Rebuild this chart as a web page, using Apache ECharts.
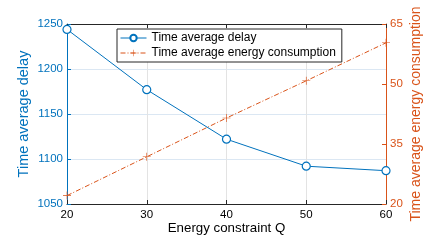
<!DOCTYPE html>
<html>
<head>
<meta charset="utf-8">
<script src="https://cdn.jsdelivr.net/npm/echarts@6/dist/echarts.min.js"></script>
<style>
  html, body { margin: 0; padding: 0; background: #fff; }
  #chart { width: 428px; height: 241px; }
</style>
</head>
<body>
<div id="chart"></div>
<script>
// values
var energyQ = [20, 30, 40, 50, 60];
var delay = [1244, 1177, 1122, 1092, 1087];
var energy = [22.1, 31.8, 41.5, 50.8, 60.3];

var blue = '#0072BD';
var orange = '#D95319';
var dark = '#262626';
var font = 'Liberation Sans, Arial, sans-serif';

var plusSymbol = 'path://M-0.08,-1H0.08V-0.08H1V0.08H0.08V1H-0.08V0.08H-1V-0.08H-0.08Z';

function plain(v) { return String(v); }

var chart = echarts.init(document.getElementById('chart'));
chart.setOption({
    animation: false,
    textStyle: { fontFamily: font },
    grid: { left: 67, right: 42, top: 24, bottom: 37, outerBoundsMode: 'none' },
    legend: {
        orient: 'vertical',
        left: 117, top: 29,
        padding: [3, 6, 3, 3],
        itemGap: 3,
        itemWidth: 26, itemHeight: 8,
        borderColor: dark, borderWidth: 1,
        backgroundColor: '#fff',
        lineStyle: { width: 1 },
        textStyle: { fontSize: 12, color: '#000', fontFamily: font },
        data: ['Time average delay', 'Time average energy consumption']
    },
    xAxis: [{
        type: 'value', min: 20, max: 60, interval: 10,
        name: 'Energy constraint Q', nameLocation: 'middle', nameGap: 18,
        nameMoveOverlap: false,
        nameTextStyle: { fontSize: 13.3, color: '#000' },
        axisLine: { lineStyle: { color: dark } },
        axisTick: { inside: true, length: 4, lineStyle: { color: dark } },
        axisLabel: { fontSize: 11.5, color: '#000', margin: 5, formatter: plain },
        splitLine: { show: true, lineStyle: { color: '#e3e3e3' } }
    }, {
        type: 'value', min: 20, max: 60, interval: 10, position: 'top',
        axisLine: { lineStyle: { color: dark } },
        axisTick: { inside: true, length: 4, lineStyle: { color: dark } },
        axisLabel: { show: false },
        splitLine: { show: false }
    }],
    yAxis: [{
        type: 'value', min: 1050, max: 1250, interval: 50,
        name: 'Time average delay', nameLocation: 'middle', nameGap: 36,
        nameMoveOverlap: false,
        nameTextStyle: { fontSize: 14.5, color: blue },
        axisLine: { show: true, lineStyle: { color: blue } },
        axisTick: { show: true, inside: true, length: 4, lineStyle: { color: blue } },
        axisLabel: { fontSize: 11.5, color: blue, margin: 4, formatter: plain },
        splitLine: { show: true, lineStyle: { color: '#dbe7f3' } }
    }, {
        type: 'value', min: 20, max: 65, interval: 15, position: 'right',
        name: 'Time average energy consumption', nameLocation: 'middle', nameGap: 23,
        nameMoveOverlap: false,
        nameRotate: 90,
        nameTextStyle: { fontSize: 14, color: orange },
        axisLine: { show: true, lineStyle: { color: orange } },
        axisTick: { show: true, inside: true, length: 4, lineStyle: { color: orange } },
        axisLabel: { fontSize: 11.5, color: orange, margin: 4, formatter: plain },
        splitLine: { show: false }
    }],
    series: [{
        name: 'Time average delay',
        type: 'line',
        xAxisIndex: 0, yAxisIndex: 0,
        data: energyQ.map(function (q, i) { return [q, delay[i]]; }),
        symbol: 'circle', symbolSize: 8,
        showAllSymbol: true,
        lineStyle: { color: blue, width: 1 },
        itemStyle: { color: '#fff', borderColor: blue, borderWidth: 1.2 },
        z: 3
    }, {
        name: 'Time average energy consumption',
        type: 'line',
        xAxisIndex: 0, yAxisIndex: 1,
        data: energyQ.map(function (q, i) { return [q, energy[i]]; }),
        symbol: plusSymbol, symbolSize: 8,
        showAllSymbol: true,
        lineStyle: { color: orange, width: 1, type: [5, 2, 1, 2] },
        itemStyle: { color: orange, borderWidth: 0 },
        z: 2
    }]
});
</script>
</body>
</html>
